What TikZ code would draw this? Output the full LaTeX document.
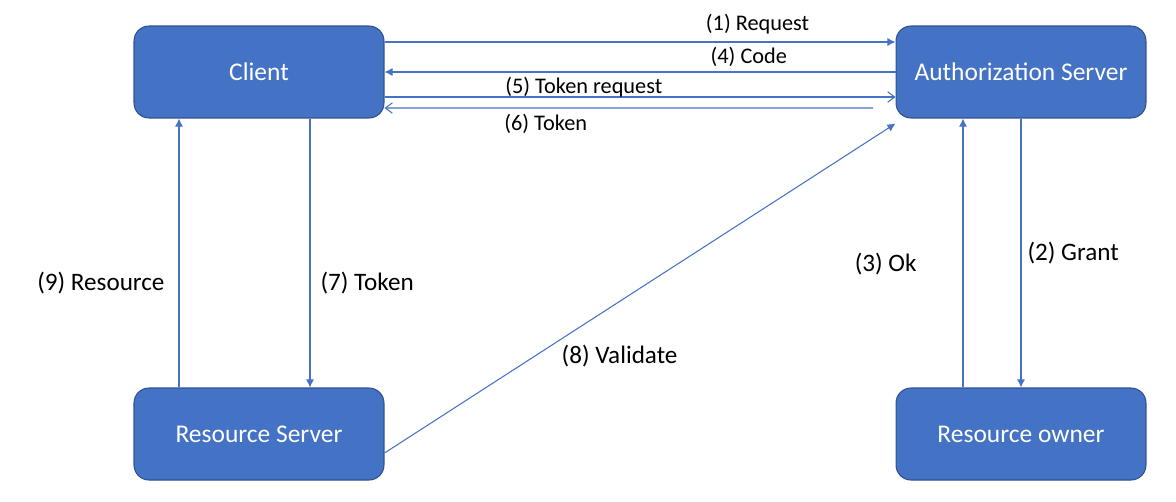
\documentclass[tikz,border=0pt]{standalone}
\usepackage{fontspec}
\setmainfont{Carlito}
\usetikzlibrary{arrows.meta}
\definecolor{boxblue}{HTML}{4472C4}
\definecolor{boxedge}{HTML}{2F528F}
\definecolor{lineblue}{HTML}{4472C4}

\begin{document}
\begin{tikzpicture}[x=0.02cm, y=-0.02cm, >={Latex[length=4.6pt,width=4.6pt]},
   party/.style={draw=boxedge, line width=0.6pt, fill=boxblue, rounded corners=0.3cm,
     minimum width=5cm, minimum height=1.84cm, inner sep=0pt, text=white,
     font=\fontsize{14.5}{17}\selectfont},
   flow/.style={draw=lineblue, line width=0.6pt},
   openflow/.style={flow, -{Straight Barb[length=4pt,width=6pt]}},
   lbl/.style={inner sep=0pt, font=\fontsize{12.7}{15}\selectfont},
   biglbl/.style={inner sep=0pt, font=\fontsize{14.3}{17}\selectfont}
   ]
   \useasboundingbox (0,0) rectangle (1176,501);

   \path (259,72) node[party] (client) {Client}
   (1021,72) node[party] (auth) {Authorization Server};
   \path (259,434) node[party] (rs) {Resource Server}
   (1021,434) node[party] (owner) {Resource owner};
   \coordinate (t6) at (873,108);

   % client <-> authorization server
   \draw[flow,->] ([yshift=0.6cm]client.east) -- node[lbl, pos=0.73, yshift=0.36cm] {(1) Request} ([yshift=0.6cm]auth.west);
   \draw[flow,->] (auth.west) -- node[lbl, pos=0.287, yshift=0.31cm] {(4) Code} (client.east);
   \draw[openflow] ([yshift=-0.5cm]client.east) -- node[lbl, pos=0.39, yshift=0.19cm] {(5) Token request} ([yshift=-0.5cm]auth.west);
   \draw[openflow] (t6) -- node[lbl, pos=0.67, yshift=-0.31cm] {(6) Token} ([yshift=-0.72cm]client.east);

   % client <-> resource server
   \draw[flow,->] ([xshift=1.02cm]client.south) -- node[biglbl, pos=0.61, anchor=west, xshift=0.2cm] {(7) Token} ([xshift=1.02cm]rs.north);
   \draw[flow,->] ([xshift=-1.6cm]rs.north) -- node[biglbl, pos=0.39, anchor=east, xshift=-0.28cm] {(9) Resource} ([xshift=-1.6cm]client.south);

   \draw[flow,->] ([yshift=-0.38cm]rs.east) -- node[biglbl, pos=0.46, yshift=-1.1cm] {(8) Validate} ([yshift=-0.1cm]auth.south west);

   % authorization server <-> resource owner
   \draw[flow,->] (auth.south) -- node[biglbl, pos=0.5, anchor=west, xshift=0.12cm] {(2) Grant} (owner.north);
   \draw[flow,->] ([xshift=-1.16cm]owner.north) -- node[biglbl, pos=0.46, anchor=east, xshift=-0.92cm] {(3) Ok} ([xshift=-1.16cm]auth.south);

\end{tikzpicture}
\end{document}
